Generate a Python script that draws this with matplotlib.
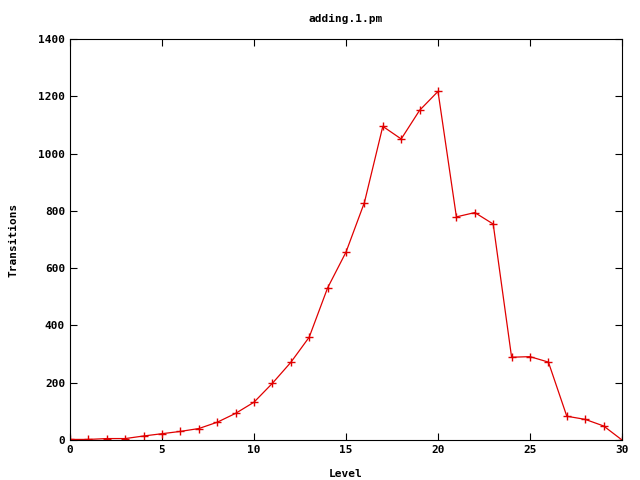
import matplotlib
matplotlib.use("Agg")
import matplotlib.pyplot as plt

levels = list(range(0, 31))
transitions = [2, 2, 5, 5, 14, 22, 30, 40, 62, 93, 132, 198, 271, 359, 531, 656,
               829, 1095, 1051, 1151, 1217, 779, 794, 754, 289, 291, 272, 83, 72, 49, 0]
xticks = [0, 5, 10, 15, 20, 25, 30]
yticks = [0, 200, 400, 600, 800, 1000, 1200, 1400]

plt.rcParams['font.family'] = ['DejaVu Sans Mono']
plt.rcParams['font.weight'] = 'bold'
plt.rcParams['font.size'] = 8

fig = plt.figure(figsize=(6.4, 4.8), dpi=100)
ax = fig.add_axes([70/640, 40/480, 552/640, 401/480])
ax.plot(levels, transitions, color='#e00000', lw=0.9, marker='+', ms=6, mew=1.0)
ax.set_xlim(0, 30)
ax.set_ylim(0, 1400)
ax.set_xticks(xticks)
ax.set_yticks(yticks)
ax.tick_params(direction='in', top=True, right=True, length=5, width=0.8, labelsize=8)
for lab in ax.get_xticklabels() + ax.get_yticklabels():
    lab.set_fontweight('bold')
for s in ax.spines.values():
    s.set_linewidth(0.8)
ax.set_xlabel('Level', fontweight='bold', fontsize=8, labelpad=10)
ax.set_ylabel('Transitions', fontweight='bold', fontsize=8, labelpad=14)
ax.set_title('adding.1.pm', fontweight='bold', fontsize=8, pad=12)
fig.savefig('out.png', dpi=100)
